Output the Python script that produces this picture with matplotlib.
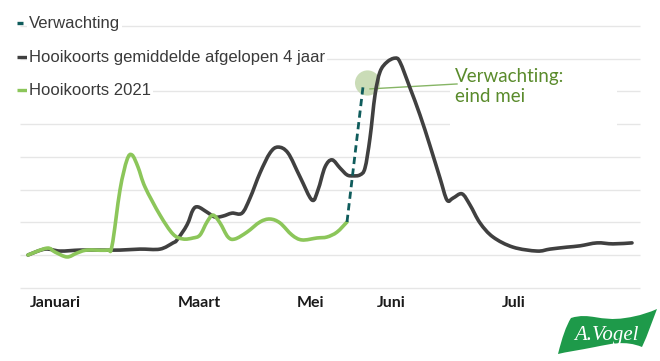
import matplotlib
matplotlib.use("Agg")
import matplotlib.pyplot as plt
import matplotlib.patches as mpatches
from matplotlib.path import Path
from matplotlib.transforms import Affine2D

# --- data: x in weeks from the start of January, y as a pollen index ---
gem_weeks = [0, 0.85, 1.6, 2.6, 3.6, 4.6, 5.6, 6.6, 7.25, 7.45, 7.95, 8.25, 8.5, 8.95,
             9.35, 9.75, 10.2, 10.7, 11.1, 11.6, 12.1, 12.5, 13.0, 13.6, 14.2, 14.5,
             14.85, 15.2, 15.6, 15.95, 16.25, 16.6, 16.85, 17.1, 17.35, 17.6, 17.95,
             18.35, 18.6, 19.1, 19.6, 20.1, 20.6, 20.95, 21.25, 21.7, 22.1, 22.6,
             23.25, 24.25, 25.45, 26.1, 26.95, 27.6, 28.45, 29.25, 30.2]
gem_values = [0, 1.8, 1.2, 1.5, 1.5, 1.5, 1.8, 1.8, 3.7, 4.6, 9.2, 13.8, 14.7, 13.1,
              11.6, 11.9, 12.8, 12.8, 17.4, 25.1, 31.2, 33.0, 31.2, 23.9, 16.8, 19.9,
              26.9, 29.1, 26.6, 24.5, 24.2, 24.5, 26.6, 35.8, 48.9, 56.0, 59.0,
              60.2, 59.0, 51.1, 42.8, 33.4, 23.5, 16.8, 17.4, 18.7, 15.3, 9.8,
              5.5, 2.4, 1.2, 1.8, 2.4, 2.8, 3.7, 3.4, 3.7]

y2021_weeks = [0, 0.95, 1.35, 1.95, 2.45, 2.95, 3.95, 4.2, 4.6, 4.95, 5.2, 5.5, 5.85,
               6.6, 7.25, 7.75, 8.25, 8.6, 8.95, 9.25, 9.6, 10.0, 10.35, 10.95, 11.6,
               12.1, 12.6, 13.2, 13.7, 14.45, 14.95, 15.45, 15.95]
y2021_values = [0, 2.1, 0.9, -0.6, 0.6, 1.5, 1.5, 2.8, 19.9, 29.1, 30.6, 26.9, 20.8,
                12.2, 6.4, 4.9, 5.2, 6.1, 10.1, 12.2, 9.8, 5.5, 4.9, 7.0, 10.1,
                11.0, 9.8, 6.1, 4.6, 5.2, 5.5, 7.0, 10.1]

verw_weeks = [15.95, 16.75]
verw_values = [10.1, 51.4]
verw_mark = (16.98, 52.6)

grid_values = [-10, 0, 10, 20, 30, 40, 50, 60, 70]
month_labels = ["Januari", "Maart", "Mei", "Juni", "Juli"]
month_weeks = [0.1, 7.5, 13.45, 17.45, 23.7]

legend_labels = ["Verwachting", "Hooikoorts gemiddelde afgelopen 4 jaar", "Hooikoorts 2021"]
annot_text = "Verwachting:\neind mei"

GRAY = "#404040"
GREEN = "#8cc65a"
TEAL = "#0f5c5c"
ANNOT = "#5a8b2c"


def smooth_path(xs, ys):
    # catmull-rom style bezier through the given points (like a spreadsheet smooth line)
    pts = list(zip(xs, ys))
    verts = [pts[0]]
    codes = [Path.MOVETO]
    n = len(pts)
    for i in range(n - 1):
        p0 = pts[i - 1] if i > 0 else pts[i]
        p1 = pts[i]
        p2 = pts[i + 1]
        p3 = pts[i + 2] if i + 2 < n else pts[i + 1]
        c1 = (p1[0] + (p2[0] - p0[0]) / 6, p1[1] + (p2[1] - p0[1]) / 6)
        c2 = (p2[0] - (p3[0] - p1[0]) / 6, p2[1] - (p3[1] - p1[1]) / 6)
        verts += [c1, c2, p2]
        codes += [Path.CURVE4] * 3
    return Path(verts, codes)


fig = plt.figure(figsize=(6.6, 3.61), dpi=100, facecolor="white")
ax = fig.add_axes([0, 0, 1, 1])
ax.set_xlim(-1.4, 31.6)
ax.set_ylim(-32.42, 77.98)
ax.axis("off")

# pixel transform (origin top-left) for the decorations
px = Affine2D().scale(1 / 660, -1 / 361).translate(0, 1) + fig.transFigure

ax.hlines(grid_values, -0.4, 30.6, color="#e6e6e6", lw=1.0, zorder=0)
# white box behind the annotation text breaks the grid lines there
ax.add_patch(mpatches.Rectangle((450, 127), 167, -65, transform=px,
                                facecolor="white", edgecolor="none", zorder=0.5))

# expectation marker
ax.scatter([verw_mark[0]], [verw_mark[1]], s=330, color="#c5d9b0", alpha=0.9,
           edgecolors="none", zorder=1)

ax.add_patch(mpatches.PathPatch(smooth_path(gem_weeks, gem_values), fill=False,
                                edgecolor=GRAY, lw=2.6, capstyle="round",
                                joinstyle="round", zorder=3))
ax.add_patch(mpatches.PathPatch(smooth_path(y2021_weeks, y2021_values), fill=False,
                                edgecolor=GREEN, lw=2.6, capstyle="round",
                                joinstyle="round", zorder=3))
ax.plot(verw_weeks, verw_values, color=TEAL, lw=2.0, dashes=(2.6, 1.6), zorder=4)

# annotation
ax.plot([17.1, 21.45], [50.8, 52.3], color="#86b565", lw=1.0, zorder=2)
ax.text(21.35, 51.6, annot_text, color=ANNOT, fontsize=13.5, family="Lato",
        ha="left", va="center", linespacing=1.25, zorder=5)

# month labels
for lab, w in zip(month_labels, month_weeks):
    ax.text(w, -15.9, lab, fontsize=11.5, family="Lato", fontweight="bold",
            color="#1a1a1a", ha="left", va="baseline")

# legend
leg_colors = [TEAL, GRAY, GREEN]
leg_y = [28, 62, 95]
leg_len = [6, 11, 11]
for lab, c, y, ln in zip(legend_labels, leg_colors, leg_y, leg_len):
    fig.add_artist(plt.Line2D([17, 17 + ln], [y - 5, y - 5], transform=px, color=c,
                              lw=2.4, solid_capstyle="butt"))
    fig.text(29 / 660, 1 - y / 361, lab, fontsize=12, family="Liberation Sans",
             color="#3a3a3a", ha="left", va="baseline",
             bbox=dict(facecolor="white", edgecolor="none", pad=1.5))

# logo
leaf = Path([(558, 354), (562, 338), (566, 326), (571, 318),
             (590, 312), (600, 322), (625, 318),
             (640, 316), (650, 312), (657, 309),
             (652, 322), (648, 334), (642, 347),
             (625, 340), (610, 344), (595, 347),
             (580, 350), (566, 352), (558, 354)],
            [Path.MOVETO, Path.CURVE4, Path.CURVE4, Path.CURVE4,
             Path.CURVE4, Path.CURVE4, Path.CURVE4,
             Path.CURVE4, Path.CURVE4, Path.CURVE4,
             Path.CURVE4, Path.CURVE4, Path.CURVE4,
             Path.CURVE4, Path.CURVE4, Path.CURVE4,
             Path.CURVE4, Path.CURVE4, Path.CURVE4])
fig.add_artist(mpatches.PathPatch(leaf, transform=px, facecolor="#1e9a4a",
                                  edgecolor="none"))
fig.text(606 / 660, 1 - 340 / 361, "A.Vogel", fontsize=15, family="Liberation Serif",
         style="italic", color="white", ha="center", va="baseline")

fig.savefig("out.png", dpi=100, facecolor="white")
